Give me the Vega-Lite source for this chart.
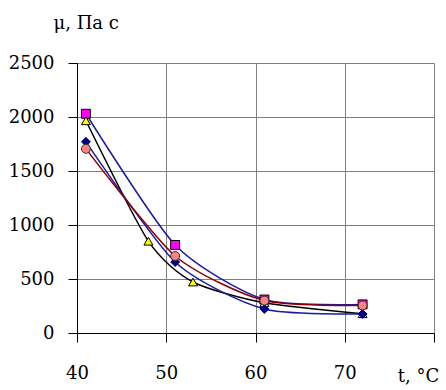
{
  "$schema": "https://vega.github.io/schema/vega-lite/v6.json",
  "autosize": {"type": "none"},
  "padding": {"left": 77, "top": 63, "right": 12, "bottom": 57},
  "width": 357,
  "height": 270,
  "background": "white",
  "config": {
    "view": {"stroke": null},
    "axis": {
      "labelFont": "DejaVu Serif",
      "titleFont": "DejaVu Serif",
      "labelFontSize": 18,
      "titleFontSize": 18,
      "labelColor": "black",
      "titleColor": "black",
      "titleFontWeight": "normal",
      "domainColor": "black",
      "tickColor": "black",
      "tickSize": 9,
      "gridColor": "#808080",
      "gridOpacity": 1,
      "gridWidth": 1
    }
  },
  "data": {
    "values": [
      {"s": "a", "t": 41, "mu": 2030},
      {"s": "a", "t": 51, "mu": 815},
      {"s": "a", "t": 61, "mu": 310},
      {"s": "a", "t": 72, "mu": 265},
      {"s": "b", "t": 41, "mu": 1965},
      {"s": "b", "t": 48, "mu": 850},
      {"s": "b", "t": 53, "mu": 472},
      {"s": "b", "t": 61, "mu": 280},
      {"s": "b", "t": 72, "mu": 178},
      {"s": "c", "t": 41, "mu": 1770},
      {"s": "c", "t": 51, "mu": 657},
      {"s": "c", "t": 61, "mu": 222},
      {"s": "c", "t": 72, "mu": 176},
      {"s": "d", "t": 41, "mu": 1705},
      {"s": "d", "t": 51, "mu": 713},
      {"s": "d", "t": 61, "mu": 300},
      {"s": "d", "t": 72, "mu": 255}
    ]
  },
  "encoding": {
    "x": {
      "field": "t", "type": "quantitative",
      "scale": {"domain": [40, 80], "nice": false, "zero": false},
      "axis": {
        "values": [40, 50, 60, 70, 80],
        "format": "d",
        "labelExpr": "datum.value == 80 ? '' : datum.label",
        "labelPadding": 22,
        "labelFlush": false,
        "title": "t, °C",
        "titleAngle": 0,
        "titleX": 341,
        "titleY": 48,
        "titleAlign": "center",
        "titleBaseline": "alphabetic"
      }
    },
    "y": {
      "field": "mu", "type": "quantitative",
      "scale": {"domain": [0, 2500], "nice": false},
      "axis": {
        "values": [0, 500, 1000, 1500, 2000, 2500],
        "format": "d",
        "labelPadding": 14,
        "labelFlush": false,
        "title": "μ, Па с",
        "titleAngle": 0,
        "titleX": -24,
        "titleY": -35,
        "titleAlign": "left",
        "titleBaseline": "alphabetic"
      }
    }
  },
  "layer": [
    {
      "mark": {"type": "line", "interpolate": "cardinal", "tension": 0.3, "strokeWidth": 1.5},
      "encoding": {
        "color": {
          "field": "s", "type": "nominal", "legend": null,
          "scale": {"domain": ["a", "b", "c", "d"], "range": ["#1a1aa0", "#000000", "#1a1aa0", "#8b0000"]}
        },
        "order": {"field": "t", "type": "quantitative"}
      }
    },
    {
      "mark": {"type": "point", "filled": true, "strokeWidth": 1, "opacity": 1},
      "encoding": {
        "shape": {
          "field": "s", "type": "nominal", "legend": null,
          "scale": {"domain": ["a", "b", "c", "d"], "range": ["square", "triangle-up", "diamond", "circle"]}
        },
        "fill": {
          "field": "s", "type": "nominal", "legend": null,
          "scale": {"domain": ["a", "b", "c", "d"], "range": ["#ff00ff", "#ffff00", "#000080", "#ff8080"]}
        },
        "stroke": {
          "field": "s", "type": "nominal", "legend": null,
          "scale": {"domain": ["a", "b", "c", "d"], "range": ["#000000", "#000000", "#000080", "#333333"]}
        },
        "size": {"value": 80}
      }
    }
  ],
  "resolve": {"scale": {"color": "independent", "fill": "independent", "stroke": "independent", "shape": "independent"}}
}
